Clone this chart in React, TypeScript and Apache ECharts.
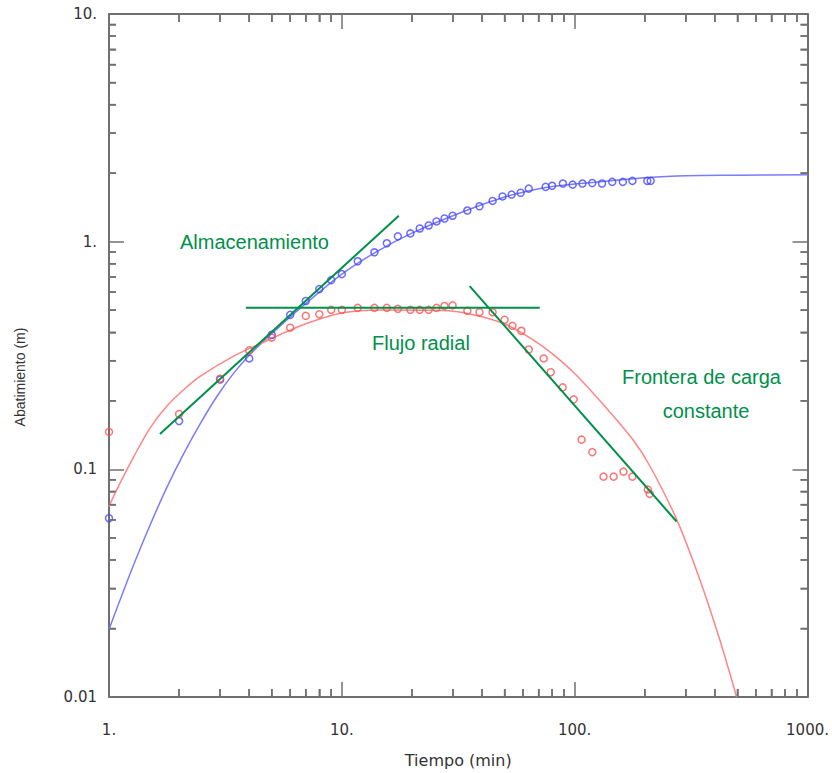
import React, { useEffect, useRef } from "react";
import * as echarts from "echarts";

// Observed drawdown (blue) and corrected drawdown (red)
const blueTimes = [1, 2, 3, 4, 5, 6, 7, 8, 9, 10, 11.7, 13.8, 15.6, 17.4, 19.7, 21.6, 23.6, 25.5, 27.6, 29.9, 34.6, 39, 44.4, 49, 53.6, 58.6, 63.5, 75, 80, 89, 98, 108, 119, 131, 145, 161, 177, 205, 212];
const blueValues = [0.061, 0.163, 0.248, 0.307, 0.39, 0.477, 0.549, 0.619, 0.678, 0.72, 0.82, 0.898, 0.984, 1.055, 1.087, 1.143, 1.178, 1.227, 1.264, 1.3, 1.37, 1.43, 1.51, 1.58, 1.61, 1.64, 1.71, 1.74, 1.76, 1.8, 1.78, 1.8, 1.81, 1.8, 1.83, 1.83, 1.85, 1.85, 1.85];

const redTimes = [1, 2, 3, 4, 5, 6, 7, 8, 9, 10, 11.7, 13.8, 15.6, 17.4, 19.7, 21.6, 23.6, 25.5, 27.6, 29.9, 34.6, 39, 44.4, 50, 54, 59, 63.5, 73.6, 78.9, 88.8, 99, 107, 119, 133, 147, 162, 177, 206, 210];
const redValues = [0.146, 0.175, 0.25, 0.333, 0.379, 0.419, 0.472, 0.48, 0.502, 0.502, 0.512, 0.512, 0.512, 0.507, 0.502, 0.502, 0.502, 0.512, 0.522, 0.525, 0.497, 0.49, 0.49, 0.454, 0.427, 0.406, 0.336, 0.307, 0.267, 0.229, 0.203, 0.135, 0.119, 0.0929, 0.0929, 0.0977, 0.0929, 0.0815, 0.078];

// Fitted type curves
const blueCurveTimes = [1, 1.25, 1.5, 1.77, 2.08, 2.46, 2.91, 3.4, 4.03, 5, 7, 10, 14, 20, 30, 50, 75, 100, 150, 200, 300, 500, 1000];
const blueCurveValues = [0.0198, 0.0361, 0.0568, 0.0831, 0.1158, 0.158, 0.2094, 0.2612, 0.3192, 0.3943, 0.535, 0.72, 0.9, 1.09, 1.3, 1.57, 1.73, 1.79, 1.86, 1.91, 1.95, 1.96, 1.97];

const redCurveTimes = [1, 1.08, 1.27, 1.5, 1.77, 2.08, 2.46, 3.4, 4.76, 7, 10, 15, 22, 30, 40, 52, 66, 80, 100, 137, 177, 210, 274, 344, 418, 496];
const redCurveValues = [0.0687, 0.0815, 0.1124, 0.1518, 0.1894, 0.2225, 0.256, 0.3128, 0.3673, 0.4357, 0.4864, 0.501, 0.5, 0.495, 0.4677, 0.4274, 0.3714, 0.3225, 0.2638, 0.1857, 0.1359, 0.1037, 0.0603, 0.033, 0.0181, 0.01];

// Straight-line regimes
const storageLineT = [1.655, 17.57];
const storageLineS = [0.143, 1.3];
const radialLineT = [3.87, 70.8];
const radialLineS = [0.512, 0.512];
const boundaryLineT = [35.4, 274];
const boundaryLineS = [0.638, 0.059];

const xMajorLabels: Record<number, string> = { 0: "1.", 1: "10.", 2: "100.", 3: "1000." };
const yMajorLabels: Record<number, string> = { [-2]: "0.01", [-1]: "0.1", 0: "1.", 1: "10." };
const xMinorTicks = [2, 3, 4, 5, 6, 7, 8, 9, 20, 30, 40, 50, 60, 70, 80, 90, 200, 300, 400, 500, 600, 700, 800, 900];
const yMinorTicks = [0.02, 0.03, 0.04, 0.05, 0.06, 0.07, 0.08, 0.09, 0.2, 0.3, 0.4, 0.5, 0.6, 0.7, 0.8, 0.9, 2, 3, 4, 5, 6, 7, 8, 9];

const X_MIN = 1, X_MAX = 1000, Y_MIN = 0.01, Y_MAX = 10;
const AXIS_COLOR = "#707070";
const GREEN = "#00904a";
const TICK_FONT = "DejaVu Sans";
const TEXT_FONT = "Liberation Sans, Arial, sans-serif";

function zip(a: number[], b: number[]) {
  return a.map((v, i) => [v, b[i]]);
}

export default function App() {
  const ref = useRef<HTMLDivElement>(null);
  useEffect(() => {
    if (!ref.current) return;
    const chart = echarts.init(ref.current, undefined, { renderer: "svg" });
    const axisLine = { show: true, lineStyle: { color: AXIS_COLOR, width: 2 } };
    const majorTick = { show: true, inside: true, length: 15, lineStyle: { color: AXIS_COLOR, width: 1.5 } };
    const baseX = {
      type: "log" as const, logBase: 10, min: X_MIN, max: X_MAX, splitLine: { show: false },
    };
    const baseY = {
      type: "log" as const, logBase: 10, min: Y_MIN, max: Y_MAX, splitLine: { show: false },
    };
    const minorX = (position: string) => ({
      ...baseX, position, axisLine: { show: false }, axisLabel: { show: false },
      axisTick: { show: true, inside: true, length: 8, customValues: xMinorTicks, lineStyle: { color: AXIS_COLOR, width: 1.5 } },
    });
    const minorY = (position: string) => ({
      ...baseY, position, axisLine: { show: false }, axisLabel: { show: false },
      axisTick: { show: true, inside: true, length: 7, customValues: yMinorTicks, lineStyle: { color: AXIS_COLOR, width: 1.5 } },
    });
    // minor tick items: [x, y, side] side 0=bottom 1=top 2=left 3=right
    const minorData: number[][] = [];
    xMinorTicks.forEach((v) => { minorData.push([v, 1, 0]); minorData.push([v, 1, 1]); });
    yMinorTicks.forEach((v) => { minorData.push([10, v, 2]); minorData.push([10, v, 3]); });

    const option: any = {
      animation: false,
      backgroundColor: "#ffffff",
      grid: { left: 109, right: 24, top: 14, bottom: 71, containLabel: false },
      xAxis: [
        {
          ...baseX, position: "bottom", axisLine, axisTick: majorTick,
          axisLabel: {
            show: true, margin: 25, color: "#333", fontFamily: TICK_FONT, fontSize: 15,
            formatter: (v: number) => xMajorLabels[Math.round(Math.log10(v))] ?? "",
          },
          name: "Tiempo (min)", nameLocation: "middle", nameGap: 55,
          nameTextStyle: { color: "#333", fontFamily: TICK_FONT, fontSize: 16 },
        },
        { ...baseX, position: "top", axisLine, axisTick: majorTick, axisLabel: { show: false } },
        minorX("bottom"),
        minorX("top"),
      ],
      yAxis: [
        {
          ...baseY, position: "left", axisLine, axisTick: majorTick,
          axisLabel: {
            show: true, margin: 12, color: "#333", fontFamily: TICK_FONT, fontSize: 15,
            formatter: (v: number) => yMajorLabels[Math.round(Math.log10(v))] ?? "",
          },
        },
        { ...baseY, position: "right", axisLine, axisTick: majorTick, axisLabel: { show: false } },
        minorY("left"),
        minorY("right"),
      ],
      graphic: [
        {
          type: "text", x: 20, y: 377, rotation: Math.PI / 2,
          style: { text: "Abatimiento (m)", font: `14px ${TEXT_FONT}`, fill: "#333", align: "center", verticalAlign: "middle" },
        },
        { type: "text", x: 180, y: 242, style: { text: "Almacenamiento", font: `20px ${TEXT_FONT}`, fill: GREEN, align: "left", verticalAlign: "middle" } },
        { type: "text", x: 372, y: 343, style: { text: "Flujo radial", font: `20px ${TEXT_FONT}`, fill: GREEN, align: "left", verticalAlign: "middle" } },
        { type: "text", x: 622, y: 377, style: { text: "Frontera de carga", font: `20px ${TEXT_FONT}`, fill: GREEN, align: "left", verticalAlign: "middle" } },
        { type: "text", x: 706, y: 411, style: { text: "constante", font: `20px ${TEXT_FONT}`, fill: GREEN, align: "center", verticalAlign: "middle" } },
      ],
      series: [
        {
          type: "custom", xAxisIndex: 0, yAxisIndex: 0, silent: true, clip: false, z: 10,
          data: minorData,
          renderItem: (_p: any, api: any) => {
            const side = api.value(2);
            const vx = api.value(0);
            const vy = api.value(1);
            let x1 = 0, y1 = 0, x2 = 0, y2 = 0;
            if (side === 0) {
              const p = api.coord([vx, Y_MIN]); x1 = p[0]; y1 = p[1]; x2 = p[0]; y2 = p[1] - 8;
            } else if (side === 1) {
              const p = api.coord([vx, Y_MAX]); x1 = p[0]; y1 = p[1]; x2 = p[0]; y2 = p[1] + 8;
            } else if (side === 2) {
              const p = api.coord([X_MIN, vy]); x1 = p[0]; y1 = p[1]; x2 = p[0] + 7; y2 = p[1];
            } else {
              const p = api.coord([X_MAX, vy]); x1 = p[0]; y1 = p[1]; x2 = p[0] - 7; y2 = p[1];
            }
            return {
              type: "line",
              shape: { x1, y1, x2, y2 },
              style: { stroke: AXIS_COLOR, lineWidth: 1.5 },
            };
          },
        },
        {
          type: "line", data: zip(blueCurveTimes, blueCurveValues), smooth: 0.3, symbol: "none",
          lineStyle: { color: "#7b7bff", width: 1.5 }, z: 2,
        },
        {
          type: "line", data: zip(redCurveTimes, redCurveValues), smooth: 0.3, symbol: "none",
          lineStyle: { color: "#ff8585", width: 1.5 }, z: 2,
        },
        {
          type: "scatter", data: zip(blueTimes, blueValues), symbol: "circle", symbolSize: 7,
          itemStyle: { color: "rgba(0,0,0,0)", borderColor: "#4545ff", borderWidth: 1.5 }, z: 3,
        },
        {
          type: "scatter", data: zip(redTimes, redValues), symbol: "circle", symbolSize: 7,
          itemStyle: { color: "rgba(0,0,0,0)", borderColor: "#ff5050", borderWidth: 1.5 }, z: 3,
        },
        { type: "line", data: zip(storageLineT, storageLineS), symbol: "none", lineStyle: { color: GREEN, width: 2 }, z: 4 },
        { type: "line", data: zip(radialLineT, radialLineS), symbol: "none", lineStyle: { color: GREEN, width: 2 }, z: 4 },
        { type: "line", data: zip(boundaryLineT, boundaryLineS), symbol: "none", lineStyle: { color: GREEN, width: 2 }, z: 4 },
      ],
    };
    chart.setOption(option);
    return () => chart.dispose();
  }, []);
  return (
    <div
      ref={ref}
      style={{ position: "fixed", left: 0, top: 0, width: 832, height: 773, background: "#fff" }}
    />
  );
}
